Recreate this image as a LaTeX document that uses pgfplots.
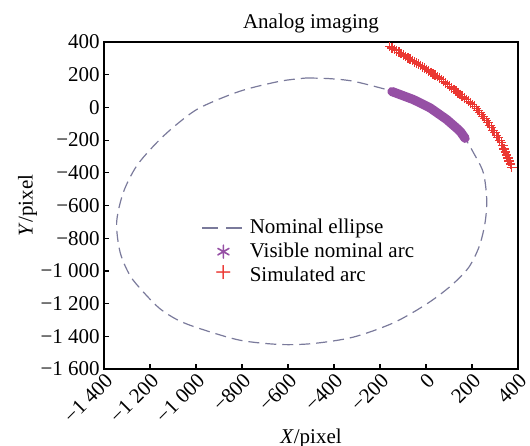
\documentclass[border=0pt]{standalone}
\usepackage{fontspec}
\setmainfont{Liberation Serif}
\usepackage{pgfplots}
\pgfplotsset{compat=1.18}
\definecolor{ellcol}{RGB}{122,122,155}
\definecolor{purp}{RGB}{150,80,165}
\definecolor{simred}{RGB}{235,55,50}
\begin{document}
\fontsize{10.5}{12.6}\selectfont
\begin{tikzpicture}
\path[use as bounding box] (-52pt,-38pt) rectangle (213pt,184.5pt);
\begin{axis}[
  at={(0,0)}, anchor=south west,
  scale only axis, width=207pt, height=163.5pt,
  xmin=-1400, xmax=400, ymin=-1600, ymax=400,
  axis line style={line width=0.6pt},
  tick align=inside, xtick pos=bottom, ytick pos=left,
  major tick length=2.5pt,
  tick style={line width=0.6pt, black},
  xtick={-1400,-1200,-1000,-800,-600,-400,-200,0,200,400},
  xticklabels={−1\ 400,−1\ 200,−1\ 000,−800,−600,−400,−200,0,200,400},
  ytick={-1600,-1400,-1200,-1000,-800,-600,-400,-200,0,200,400},
  yticklabels={−1\ 600,−1\ 400,−1\ 200,−1\ 000,−800,−600,−400,−200,0,200,400},
  xticklabel style={rotate=45, anchor=north east, inner sep=1pt},
  yticklabel style={inner sep=2pt},
  xlabel={\textit{X}/pixel},
  ylabel={\textit{Y}/pixel},
  xlabel style={yshift=3pt},
  ylabel style={yshift=-4pt},
  title={Analog imaging},
  title style={yshift=-5pt},
  legend style={draw=none, fill=none, at={(0.235,0.472)}, anchor=north west,
    inner sep=0pt, row sep=-1pt},
  legend cell align=left,
]
\addplot[color=ellcol, line width=0.6pt, dash pattern=on 5.5pt off 3pt, smooth,
  legend image code/.code={\draw[ellcol, line width=0.7pt, dash pattern=on 8pt off 4pt] (0cm,0cm) -- (0.75cm,0cm);}]
coordinates {
(-519,180) (-420,176) (-316,160) (-171,109) (-148,97) (-55,48) (17,-2) (90,-74)
(148,-145) (170,-189) (206,-276) (249,-398) (264,-561) (257,-703) (232,-848)
(185,-980) (105,-1095) (0,-1205) (-142,-1318) (-316,-1405) (-490,-1444)
(-635,-1450) (-809,-1424) (-983,-1353) (-1077,-1302) (-1157,-1231) (-1229,-1129)
(-1287,-1028) (-1330,-886) (-1345,-703) (-1316,-520) (-1258,-358) (-1171,-216)
(-1084,-104) (-983,-2) (-809,99) (-635,160) (-519,180)
};
\addlegendentry{Nominal ellipse}
\addplot[color=purp, line width=4.6pt, line cap=round, line join=round, smooth,
  legend image code/.code={\draw[purp, line width=0.8pt, mark size=3.2pt] plot[mark=asterisk] coordinates {(0.37cm,0cm)};}]
coordinates {
(-148,97) (-138,91.7) (-128,86.5) (-118,81.2) (-108,75.9) (-98,70.7) (-88,65.4)
(-78,60.1) (-68,54.8) (-58,49.6) (-48,43.1) (-38,36.2) (-28,29.3) (-18,22.4)
(-8,15.4) (2,8.5) (12,1.5) (22,-6.9) (32,-16.8) (42,-26.7) (52,-36.5) (62,-46.4)
(72,-56.2) (82,-66.1) (92,-76.4) (102,-88.7) (112,-100.9) (122,-113.2)
(132,-125.4) (142,-137.7) (150,-149) (158,-165) (165,-179) (170,-189)
};
\addlegendentry{Visible nominal arc}
\addplot[only marks, mark=+, mark size=2.4pt, draw=simred, color=simred,
  mark options={draw=simred, line width=0.7pt},
  legend image code/.code={\node[inner sep=0pt, anchor=center] at (0.37cm,0pt) {\fontsize{15}{15}\selectfont\textcolor{simred}{+}};}]
coordinates {
(-158,373) (-148,364) (-138,355) (-128,346.3) (-118,337.5) (-108,328.8) (-98,320)
(-88,311) (-78,302) (-69,294.5) (-60,287) (-51,279.3) (-42,271.5) (-33,263.8)
(-24,256) (-15,248.5) (-6,241) (3,232) (12,223) (21.3,214.3) (30.5,205.5)
(39.8,196.8) (49,188) (58,179) (67,170) (76,160) (85,150) (94,139.8) (103,129.5)
(112,119.3) (121,109) (130,99) (139,89) (148,78.8) (157,68.5) (166.3,58.3)
(175.5,48) (184.8,37.8) (194,27.5) (203,17.3) (212,7) (219.3,-5.5) (226.5,-18)
(233.8,-30.8) (241,-43.5) (248.3,-56.3) (255.5,-69) (262.8,-81.5) (270,-94)
(277.3,-109.3) (284.5,-124.5) (291.8,-139.8) (299,-155) (306.3,-170.3)
(313.5,-185.5) (320.8,-200.8) (328,-216) (333.5,-234.8) (339,-253.5)
(344.8,-272.3) (350.5,-291) (356,-309.8) (361.5,-328.5) (367.3,-347.3) (373,-366)
};
\addlegendentry{Simulated arc}
\end{axis}
\end{tikzpicture}
\end{document}
